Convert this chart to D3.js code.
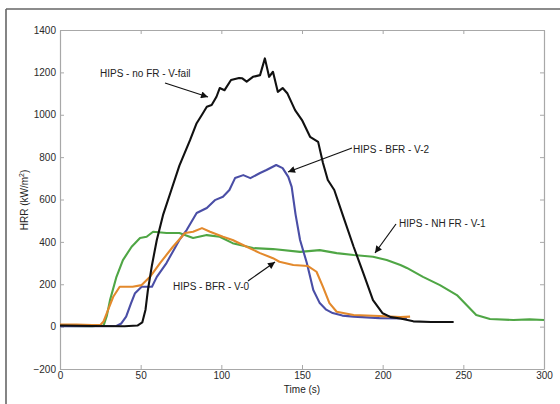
<!DOCTYPE html>
<html><head><meta charset="utf-8">
<script src="https://cdn.jsdelivr.net/npm/d3@7"></script>
<style>html,body{margin:0;padding:0;background:#fff;}svg{display:block;}</style>
</head><body>
<svg id="c" width="560" height="404"></svg>
<script>
const xTicks = [0,50,100,150,200,250,300];
const yTicks = [-200,0,200,400,600,800,1000,1200,1400];

const noFrT = [0,20,40,48,51,53,54.5,57,60,64,69,74,80.6,84.7,88,91,94,97,99,102,106,111,113,115.7,119.6,124,127,129.6,132,135,138,141,145.7,150,155,160,163,166,170,175.6,182,188,194,200,205,211,219,230,244];
const noFrV = [5,3,2,5,20,80,173,290,409,530,645,760,880,960,1000,1038,1046,1085,1126,1116,1164,1173,1172,1156,1179,1187,1266,1179,1203,1108,1126,1100,1022,975,896,872,772,692,645,519,377,253,125,63,45,38,25,22,22];

const bfrV2T = [0,20,35,38,41,44,46.5,50.6,57,60,66,70,74,78.5,84.7,91,96,101,105,108.5,113.6,118,124,128,134,138,141.5,143.6,146,148.8,153,157,161,165,169,175,182,198,215];
const bfrV2V = [2,2,3,15,47,110,158,188,188,235,300,355,409,456,536,560,597,613,645,701,715,701,725,739,763,748,707,660,530,409,300,173,111,80,64,52,47,40,38];

const bfrV0T = [0,10,20,25,27,29,33,37,45,50.6,55.8,62,70,77.5,82.5,88,93,101,107,115.7,124,132,136,144.6,153.7,159,163,167,171.5,182,198,211,217];
const bfrV0V = [10,10,8,8,25,64,141,188,188,196,235,300,377,442,448,465,448,424,409,377,347,323,306,291,286,259,188,111,70,55,50,45,47];

const nhFrT = [0,20,27,29,31,35,39,44.4,49.6,53.7,57.7,66,74,82.5,91,99,107,111.6,119.6,132,148.8,161,171.5,182,194,202.5,211,215,225,235.5,246,252,258,266.5,281,291,300];
const nhFrV = [3,2,5,50,125,235,314,377,418,424,448,442,442,418,432,424,394,385,371,366,353,361,347,338,330,314,291,277,235,196,149,102,55,36,31,34,31];

const seriesNames = ["HIPS - NH FR - V-1","HIPS - BFR - V-2","HIPS - BFR - V-0","HIPS - no FR - V-fail"];
const seriesColors = ["#4fa645","#4a4ea6","#e3892c","#111111"];
const seriesT = [nhFrT,bfrV2T,bfrV0T,noFrT];
const seriesV = [nhFrV,bfrV2V,bfrV0V,noFrV];

const svg = d3.select("#c");
const L=60,R=544,T=30,B=369;
const x = d3.scaleLinear().domain([0,300]).range([L,R]);
const y = d3.scaleLinear().domain([-200,1400]).range([B,T]);
const font = "'Liberation Sans', Arial, Helvetica, sans-serif";
const fmt = d3.format("d");

// outer frame (top & left)
svg.append("line").attr("x1",6).attr("x2",560).attr("y1",9).attr("y2",9).attr("stroke","#666").attr("stroke-width",1.6);
svg.append("line").attr("x1",6).attr("x2",6).attr("y1",9).attr("y2",404).attr("stroke","#666").attr("stroke-width",1.6);

const axCol="#a8a8a8";
const tickSz=4;
const gB = svg.append("g").attr("transform",`translate(0,${B})`)
  .call(d3.axisBottom(x).tickValues(xTicks).tickFormat(fmt).tickSizeInner(-tickSz).tickSizeOuter(0).tickPadding(3));
const gT = svg.append("g").attr("transform",`translate(0,${T})`)
  .call(d3.axisTop(x).tickValues(xTicks).tickSizeInner(-tickSz).tickSizeOuter(0).tickFormat(""));
const gL = svg.append("g").attr("transform",`translate(${L},0)`)
  .call(d3.axisLeft(y).tickValues(yTicks).tickFormat(fmt).tickSizeInner(-tickSz).tickSizeOuter(0).tickPadding(4));
const gR = svg.append("g").attr("transform",`translate(${R},0)`)
  .call(d3.axisRight(y).tickValues(yTicks).tickSizeInner(-tickSz).tickSizeOuter(0).tickFormat(""));
[gB,gT,gL,gR].forEach(g=>{
  g.selectAll("path").attr("stroke",axCol).attr("stroke-width",1.2);
  g.selectAll("line").attr("stroke",axCol).attr("stroke-width",1);
  g.selectAll("text").attr("fill","#2a2a2a").style("font-family",font).style("font-size","10px");
});
gB.selectAll("text").attr("y",3).attr("dy","0.71em");

const line = d3.line().x(d=>x(d[0])).y(d=>y(d[1]));
seriesT.forEach((ts,i)=>{
  const pts = ts.map((t,j)=>[t,seriesV[i][j]]);
  svg.append("path").datum(pts).attr("d",line).attr("fill","none")
    .attr("stroke",seriesColors[i]).attr("stroke-width",2.1).attr("stroke-linejoin","round");
});

svg.append("text").attr("x",302).attr("y",393).attr("text-anchor","middle")
  .style("font-family",font).style("font-size","10px").attr("fill","#222").text("Time (s)");
const yl = svg.append("text").attr("transform","translate(28,200) rotate(-90)").attr("text-anchor","middle")
  .style("font-family",font).style("font-size","10px").attr("fill","#222");
yl.append("tspan").text("HRR (kW/m");
yl.append("tspan").attr("dy",-4).style("font-size","7px").text("2");
yl.append("tspan").attr("dy",4).text(")");

const defs = svg.append("defs");
defs.append("marker").attr("id","ah").attr("viewBox","0 0 10 10").attr("refX",10).attr("refY",5)
  .attr("markerWidth",9).attr("markerHeight",7).attr("markerUnits","userSpaceOnUse").attr("orient","auto")
  .append("path").attr("d","M0,0L10,5L0,10z").attr("fill","#111");

const notes = [
  {text:seriesNames[3], tx:100, ty:77, x1:165, y1:83, x2:208, y2:97},
  {text:seriesNames[1], tx:353, ty:153, x1:352, y1:148, x2:288, y2:172},
  {text:seriesNames[0], tx:399, ty:227, x1:396, y1:224, x2:375, y2:253},
  {text:seriesNames[2], tx:173, ty:290, x1:248, y1:281, x2:275, y2:262}
];
notes.forEach(n=>{
  svg.append("line").attr("x1",n.x1).attr("y1",n.y1).attr("x2",n.x2).attr("y2",n.y2)
    .attr("stroke","#111").attr("stroke-width",1.2).attr("marker-end","url(#ah)");
  svg.append("text").attr("x",n.tx).attr("y",n.ty).style("font-family",font).style("font-size","10px")
    .attr("fill","#222").text(n.text);
});
</script>
</body></html>
